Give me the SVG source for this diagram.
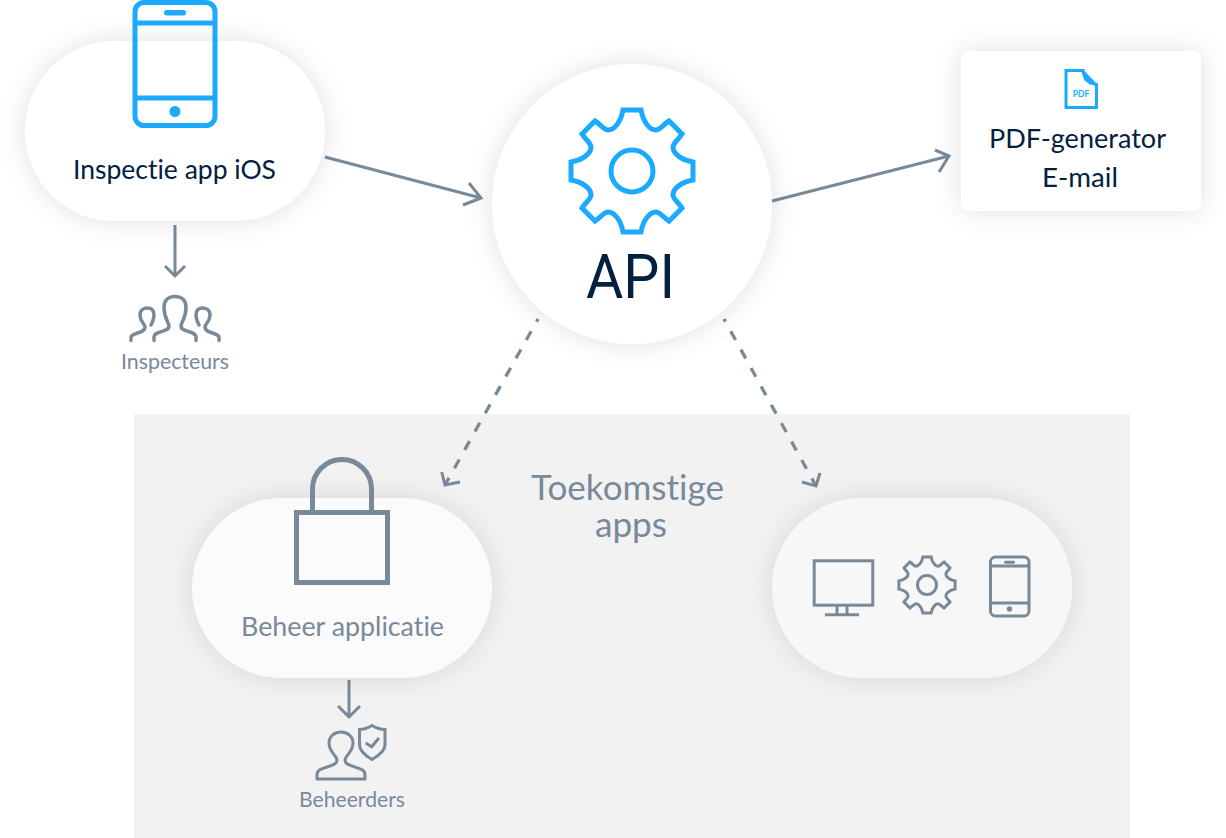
<svg xmlns="http://www.w3.org/2000/svg" width="1226" height="838" viewBox="0 0 1226 838">
<style>
text{font-family:"Lato","Noto Sans",sans-serif;text-anchor:middle;font-variant-ligatures:none}
.dark{fill:#03203f}
.grey{fill:#78899a}
.blue{fill:none;stroke:#1caaff;stroke-width:5}
.gl{fill:none;stroke:#78899a;stroke-width:5}
.g3{fill:none;stroke:#78899a;stroke-width:3}
.g35{fill:none;stroke:#78899a;stroke-width:3.5;stroke-linecap:round;stroke-linejoin:round}
.conn{fill:none;stroke:#78899a;stroke-width:3}
.dash{stroke-dasharray:10 11;stroke-width:3.300}
.t27{font-size:27.500px}
.t20{font-size:21px}
.t33{font-size:34px}
</style>
<defs>
<filter id="sh" x="-30%" y="-40%" width="160%" height="180%"><feDropShadow dx="0" dy="0" stdDeviation="13" flood-color="#000" flood-opacity="0.12"/></filter>
<path id="gear" d="M-9,-61 L9,-61 C11,-50 17,-41 24,-41 C28,-41 32,-47 37,-50 L50,-37 C47,-32 41,-28 41,-24 C41,-17 50,-11 61,-9 L61,9 C50,11 41,17 41,24 C41,28 47,32 50,37 L37,50 C32,47 28,41 24,41 C17,41 11,50 9,61 L-9,61 C-11,50 -17,41 -24,41 C-28,41 -32,47 -37,50 L-50,37 C-47,32 -41,28 -41,24 C-41,17 -50,11 -61,9 L-61,-9 C-50,-11 -41,-17 -41,-24 C-41,-28 -47,-32 -50,-37 L-37,-50 C-32,-47 -28,-41 -24,-41 C-17,-41 -11,-50 -9,-61 Z"/>
<path id="side" d="M131,340.500 V337 C131,335 135,334 139,332.500 C143,331 145,330 145,327 C145,324 140,322 140,315 C140,310 144,308 147.500,308 C151,308 154,310 154,315 C154,318 153,321 151,325"/>
</defs>
<rect id="panel" x="134" y="414" width="996" height="424" fill="#f2f2f2"/>
<g id="connectors">
<path class="conn" d="M325,157 L481,198 M469,183 L481,198 L463,205"/>
<path class="conn" d="M772,201 L949,156 M935,150 L949,156 L939,172"/>
<path class="conn" d="M175,225 V276 M165,266 L175,276 L185,266"/>
<path class="conn" d="M349,680 V717 M338,706 L349,717 L360,706"/>
<path class="conn dash" d="M538,319 L445,485" stroke-dashoffset="7"/>
<path class="conn" d="M441.700,472 L445,485 L460,482"/>
<path class="conn dash" d="M724,319 L816,486" stroke-dashoffset="7"/>
<path class="conn" d="M820,473 L816,486 L802,482"/>
</g>
<g id="node-ios">
<rect x="25" y="41" width="300" height="180" rx="90" fill="#fff" filter="url(#sh)"/>
<rect class="blue" x="135" y="2.500" width="80" height="123" rx="9"/>
<path class="blue" d="M135,23 H215 M135,98 H215"/>
<rect x="164" y="10" width="22" height="5.500" rx="2.700" fill="#1caaff"/>
<circle cx="175" cy="111.500" r="5.500" fill="#1caaff"/>
<text class="dark t27" x="174.500" y="179" textLength="203" lengthAdjust="spacingAndGlyphs">Inspectie app iOS</text>
</g>
<g id="node-inspecteurs">
<path class="g35" d="M154,340.500 V337 C154,334 157,333 160,332 C165,330 169,330 169,326 C169,322 164,319 164,307 C164,300 169,296.500 175,296.500 C181,296.500 186,300 186,307 C186,319 181,322 181,326 C181,330 185,330 190,332 C193,333 196,334 196,337 V340.500"/>
<use href="#side" class="g35"/>
<use href="#side" class="g35" transform="translate(350,0) scale(-1,1)"/>
<text class="grey t20" x="175" y="369" textLength="108" lengthAdjust="spacingAndGlyphs">Inspecteurs</text>
</g>
<g id="node-api">
<circle cx="632" cy="204" r="140" fill="#fff" filter="url(#sh)"/>
<use href="#gear" class="blue" transform="translate(632,171)"/>
<circle class="blue" cx="632" cy="171" r="21"/>
<text class="dark" x="630.500" y="298" font-size="62" style="font-family:Roboto,sans-serif" textLength="89" lengthAdjust="spacingAndGlyphs">API</text>
</g>
<g id="node-pdf">
<rect x="961" y="51" width="240" height="160" rx="8" fill="#fff" filter="url(#sh)"/>
<path d="M1066,70.500 H1083 C1084,79 1088,83 1096.500,84.500 V107.500 H1066 Z" fill="#fff" stroke="#1caaff" stroke-width="3"/>
<path d="M1083,69.500 L1097.500,84.500 H1090 L1084,80 Z" fill="#1caaff"/>
<text x="1081" y="97" font-size="8.500" font-weight="700" fill="#1caaff">PDF</text>
<text class="dark t27" x="1077.500" y="148" textLength="177" lengthAdjust="spacingAndGlyphs">PDF-generator</text>
<text class="dark t27" x="1080" y="187" textLength="76" lengthAdjust="spacingAndGlyphs">E-mail</text>
</g>
<g id="label-toekomstige">
<text class="grey t33" x="627.500" y="500" textLength="193" lengthAdjust="spacingAndGlyphs">Toekomstige</text>
<text class="grey t33" x="631" y="537" textLength="72" lengthAdjust="spacingAndGlyphs">apps</text>
</g>
<g id="node-beheer">
<rect x="192" y="498" width="300" height="180" rx="90" fill="#fbfbfb" filter="url(#sh)"/>
<rect class="gl" x="296.500" y="512.500" width="91" height="70"/>
<path class="gl" d="M312.500,512 V489 A29.500,29.500 0 0 1 371.500,489 V512"/>
<text class="grey t27" x="342.500" y="636" textLength="203" lengthAdjust="spacingAndGlyphs">Beheer applicatie</text>
</g>
<g id="node-beheerders">
<path class="g3" stroke-linejoin="round" d="M317,779 V775 C317,770 321,769 327,767 C333,765 337,764 337,760 C337,756 329,752 329,743 C329,736 335,732 341,732 C347,732 353,736 353,743 C353,752 345,756 345,760 C345,764 349,765 355,767 C361,769 365,770 365,775 V779 Z"/>
<path class="g3" d="M372,725.500 C376,728 380,729.500 385,729.500 V745 C385,751 378,756 372,759.500 C366,756 359.500,751 359.500,745 V729.500 C364,729.500 368,728 372,725.500 Z"/>
<path class="g3" d="M365.700,743 L371.700,746.700 L379,738"/>
<text class="grey t20" x="352" y="807" textLength="106" lengthAdjust="spacingAndGlyphs">Beheerders</text>
</g>
<g id="node-future">
<rect x="772" y="498" width="300" height="180" rx="90" fill="#f7f7f7" filter="url(#sh)"/>
<rect class="g3" x="814.200" y="560.800" width="58.600" height="44.400"/>
<path class="g3" d="M837,606 V614 M847,606 V614 M825,614.700 H859"/>
<use href="#gear" class="g3" transform="translate(927,585) scale(0.46)" style="stroke-width:6.500"/>
<circle class="g3" cx="927" cy="585" r="9.500"/>
<rect class="g3" x="990.500" y="557" width="38.500" height="59" rx="5"/>
<path class="g3" d="M990.500,566 H1029 M990.500,603 H1029"/>
<rect x="1004" y="560.800" width="11" height="3" rx="1.500" fill="#78899a"/>
<circle cx="1009.500" cy="609" r="2.700" fill="#78899a"/>
</g>
</svg>
